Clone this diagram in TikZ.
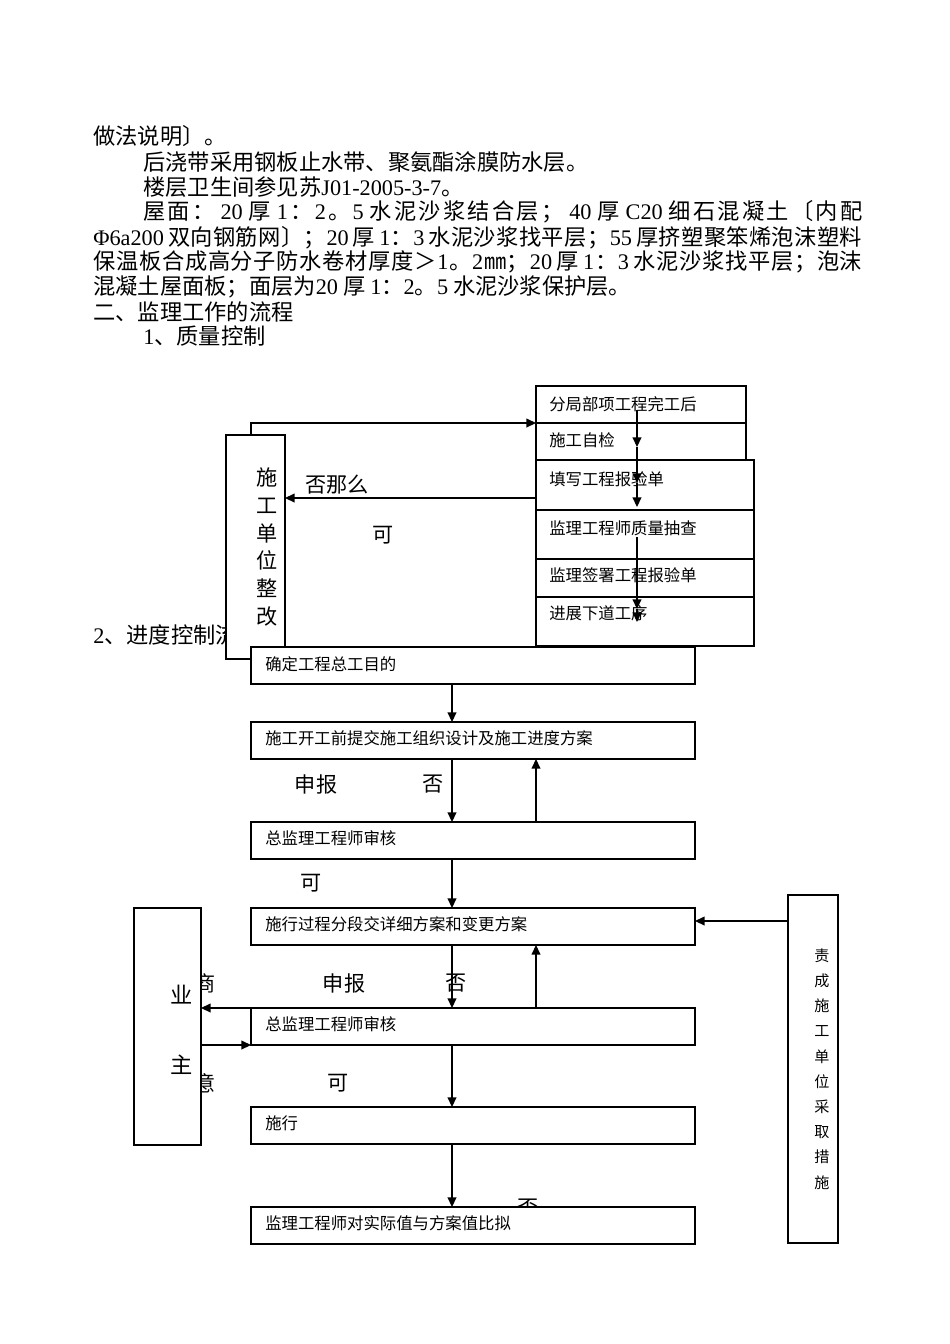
\documentclass[tikz,border=0pt]{standalone}
\usepackage{fontspec}
\setmainfont{Noto Sans CJK SC}
\newfontfamily\lat{Liberation Serif}
\usetikzlibrary{arrows.meta,calc,positioning}
\newcommand\pxl{0.2211mm}
\newcommand\ltn[1]{{\lat #1}}
\newcommand\lsp[1]{{\lat\,#1\,}}
\newcommand\lspl[1]{{\lat\,#1}}
\newcommand\lspr[1]{{\lat #1\,}}
\newcommand\bodyfs{\fontsize{14pt}{16pt}\selectfont}
\newcommand\boxfs{\fontsize{10.3pt}{12pt}\selectfont}
\newcommand\lblfs{\fontsize{13.3pt}{16pt}\selectfont}
% even glue between the characters of a justified line
\newcommand\spreadline[1]{\spreadB#1\relax}
\def\spreadB#1{{#1}\spreadA}
\def\spreadA#1{\ifx\relax#1\else\hskip0pt plus1fil{#1}\expandafter\spreadA\fi}

\begin{document}
\begin{tikzpicture}[x=\pxl, y=-\pxl,
  box/.style={draw, fill=white, line width=0.7pt, outer sep=0pt, inner sep=0pt, anchor=north west},
  btxt/.style={anchor=west, inner sep=0pt, font=\boxfs},
  lbl/.style={inner sep=0pt, font=\lblfs},
  body/.style={anchor=west, inner sep=0pt, font=\bodyfs},
  vtxt/.style={inner sep=0pt, align=center},
  arr/.style={line width=0.7pt, -{Triangle[length=6pt,width=5.5pt]}}]
 \useasboundingbox (0,0) rectangle (950,1344);

 \node[body] (l1) at (93,136) {做法说明〕。};
 \node[body] (l2) at (143,162) {后浇带采用钢板止水带、聚氨酯涂膜防水层。};
 \node[body] (l3) at (143,187) {楼层卫生间参见苏\ltn{J01-2005-3-7}。};
 \node[body] (l4) at (143,212) {\makebox[159mm][s]{\spreadline{屋面：{\lsp{20}}厚{\lspl{1}}：{\lat 2}。{\lspr{5}}水泥沙浆结合层；{\lsp{40}}厚{\lsp{C20}}细石混凝土〔内配}}};
 \node[body] (l5) at (93,238) {\makebox[170mm][s]{\spreadline{{\lspr{Φ6a200}}双向钢筋网〕；{\lspr{20}}厚{\lspl{1}}：{\lspr{3}}水泥沙浆找平层；{\lspr{55}}厚挤塑聚笨烯泡沫塑料}}};
 \node[body] (l6) at (93,262) {\makebox[170mm][s]{\spreadline{保温板合成高分子防水卷材厚度＞{\lat 1}。{\lat 2}㎜；{\lspr{20}}厚{\lspl{1}}：{\lspr{3}}水泥沙浆找平层；泡沫}}};
 \node[body] (l7) at (93,287) {混凝土屋面板；面层为\ltn{20} 厚 \ltn{1}：\ltn{2}。\ltn{5} 水泥沙浆保护层。};
 \node[body] (l8) at (93,312) {二、监理工作的流程};
 \node[body] (l9) at (143,336) {\ltn{1}、质量控制};
 \node[body] (l10) at (93,635) {\ltn{2}、进度控制流};

 % hidden behind the boxes
 \node[lbl] (talk) at (205,983) {商};
 \node[lbl] (agree) at (205,1083) {意};
 \node[lbl] (no3) at (528,1208) {否};

 \node[box, minimum width={210*\pxl}, minimum height={37*\pxl}] (q1) at (536,386) {};
 \node[box, minimum width={210*\pxl}, minimum height={37*\pxl}] (q2) at (536,423) {};
 \node[box, minimum width={218*\pxl}, minimum height={50*\pxl}] (q3) at (536,460) {};
 \node[box, minimum width={218*\pxl}, minimum height={49*\pxl}] (q4) at (536,510) {};
 \node[box, minimum width={218*\pxl}, minimum height={38*\pxl}] (q5) at (536,559) {};
 \node[box, minimum width={218*\pxl}, minimum height={49*\pxl}] (q6) at (536,597) {};
 \node[btxt] (q1t) at ($(q1.north west)+(13,18)$) {分局部项工程完工后};
 \node[btxt] (q2t) at ($(q2.north west)+(13,17)$) {施工自检};
 \node[btxt] (q3t) at ($(q3.north west)+(13,19)$) {填写工程报验单};
 \node[btxt] (q4t) at ($(q4.north west)+(13,18)$) {监理工程师质量抽查};
 \node[btxt] (q5t) at ($(q5.north west)+(13,16)$) {监理签署工程报验单};
 \node[btxt] (q6t) at ($(q6.north west)+(13,16)$) {进展下道工序};

 \node[box, minimum width={59*\pxl}, minimum height={224*\pxl}] (fix) at (226,435) {};
 \node[vtxt, font=\fontsize{13.3pt}{17.5pt}\selectfont] (fixt) at (267,547) {施\\工\\单\\位\\整\\改};

 \node[lbl] (nothen) at (337,485) {否那么};
 \node[lbl] (okq) at (383,535) {可};

 \coordinate (fixtop) at (251,435);
 \coordinate (nofrom) at (536,498);
 \draw[arr] (fixtop) |- (q2.north west);
 \draw[arr] (nofrom) -- (nofrom -| fix.east);

 \coordinate (qa) at (637,410);
 \coordinate (qb) at (637,447);
 \coordinate (qc) at (637,483);
 \coordinate (qd) at (637,507);
 \coordinate (qe) at (637,537);
 \coordinate (qf) at (637,609);
 \coordinate (qg) at (637,622);
 \draw[arr] (qa) -- (qb);
 \draw[arr] (qb) -- (qc);
 \draw[arr] (qc) -- (qd);
 \draw[arr] (qe) -- (qf);
 \draw[arr] (qf) -- (qg);

 \node[box, minimum width={444*\pxl}, minimum height={37*\pxl}] (s1) at (251,647) {};
 \node[box, minimum width={444*\pxl}, minimum height={37*\pxl}] (s2) at (251,722) {};
 \node[box, minimum width={444*\pxl}, minimum height={37*\pxl}] (s3) at (251,822) {};
 \node[box, minimum width={444*\pxl}, minimum height={37*\pxl}] (s4) at (251,908) {};
 \node[box, minimum width={444*\pxl}, minimum height={37*\pxl}] (s5) at (251,1008) {};
 \node[box, minimum width={444*\pxl}, minimum height={37*\pxl}] (s6) at (251,1107) {};
 \node[box, minimum width={444*\pxl}, minimum height={37*\pxl}] (s7) at (251,1207) {};
 \node[btxt] (s1t) at ($(s1.north west)+(14,17)$) {确定工程总工目的};
 \node[btxt] (s2t) at ($(s2.north west)+(14,16)$) {施工开工前提交施工组织设计及施工进度方案};
 \node[btxt] (s3t) at ($(s3.north west)+(14,16)$) {总监理工程师审核};
 \node[btxt] (s4t) at ($(s4.north west)+(14,16)$) {施行过程分段交详细方案和变更方案};
 \node[btxt] (s5t) at ($(s5.north west)+(14,16)$) {总监理工程师审核};
 \node[btxt] (s6t) at ($(s6.north west)+(14,16)$) {施行};
 \node[btxt] (s7t) at ($(s7.north west)+(14,16)$) {监理工程师对实际值与方案值比拟};

 \node[box, minimum width={67*\pxl}, minimum height={237*\pxl}] (owner) at (134,908) {};
 \node[vtxt, font=\fontsize{14pt}{43.9pt}\selectfont] (ownert) at (182,1030) {业\\主};
 \node[box, minimum width={50*\pxl}, minimum height={348*\pxl}] (unit) at (788,895) {};
 \node[vtxt, font=\fontsize{9.5pt}{15.85pt}\selectfont] (unitt) at (822,1069) {责\\成\\施\\工\\单\\位\\采\\取\\措\\施};

 \node[lbl] (rep1) at (316,784) {申报};
 \node[lbl] (no1) at (433,784) {否};
 \node[lbl] (ok1) at (311,883) {可};
 \node[lbl] (rep2) at (344,983) {申报};
 \node[lbl] (no2) at (456,983) {否};
 \node[lbl] (ok2) at (338,1083) {可};

 \coordinate (mx) at (452,0);
 \coordinate (ux) at (536,0);
 \coordinate (ua) at (788,921);
 \draw[arr] (s1.south -| mx) -- (s2.north -| mx);
 \draw[arr] (s2.south -| mx) -- (s3.north -| mx);
 \draw[arr] (s3.north -| ux) -- (s2.south -| ux);
 \draw[arr] (s3.south -| mx) -- (s4.north -| mx);
 \draw[arr] (s4.south -| mx) -- (s5.north -| mx);
 \draw[arr] (s5.north -| ux) -- (s4.south -| ux);
 \draw[arr] (s5.south -| mx) -- (s6.north -| mx);
 \draw[arr] (s6.south -| mx) -- (s7.north -| mx);
 \draw[arr] (ua) -- (ua -| s4.east);
 \draw[arr] (s5.north west) -- (s5.north west -| owner.east);
 \draw[arr] (s5.south west -| owner.east) -- (s5.south west);

\end{tikzpicture}
\end{document}
